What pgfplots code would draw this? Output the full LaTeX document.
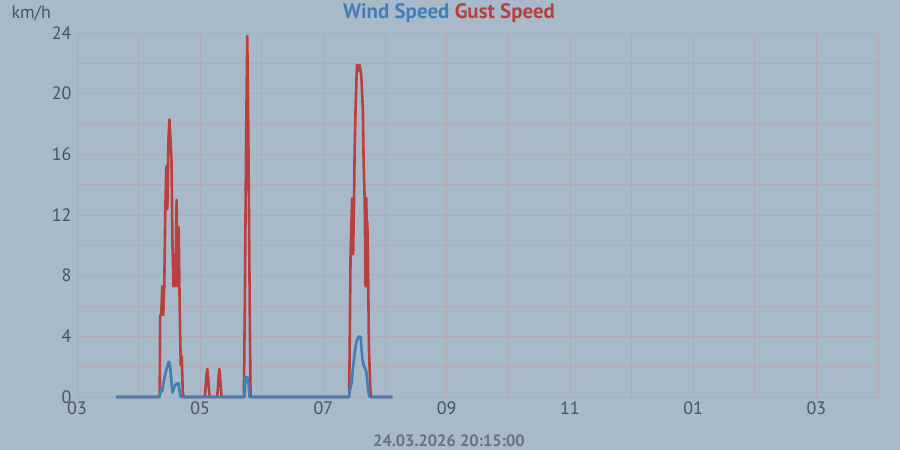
\documentclass[border=0pt]{standalone}
\usepackage{pgfplots}
\pgfplotsset{compat=1.18}
\usepackage{fontspec}
\setmainfont{PT Sans}
\definecolor{bgc}{RGB}{168,185,201}
\definecolor{gridc}{RGB}{178,171,178}
\definecolor{tickc}{RGB}{72,82,98}
\definecolor{datec}{RGB}{104,114,130}
\definecolor{windc}{RGB}{64,128,186}
\definecolor{gustc}{RGB}{186,64,64}
\begin{document}
\begin{tikzpicture}[x=1bp,y=1bp]
\fill[bgc] (-77,-53) rectangle (823,397);
\useasboundingbox (-77,-53) rectangle (823,397);
\begin{axis}[
  at={(0,0)}, anchor=south west,
  scale only axis, width=801bp, height=364bp,
  xmin=0, xmax=780, ymin=0, ymax=24,
  axis background/.style={fill=bgc},
  axis line style={gridc, line width=0.8pt},
  xtick={0,120,...,720}, xticklabels={03,05,07,09,11,01,03},
  minor xtick={60,180,...,780},
  ytick={0,4,...,24},
  minor ytick={2,6,...,22},
  grid=both,
  major grid style={gridc, line width=0.8pt},
  minor grid style={gridc, line width=0.8pt},
  major tick length=0pt, minor tick length=0pt,
  tick label style={font=\fontsize{18}{20}\selectfont, text=tickc},
  /pgf/number format/assume math mode=true,
  xticklabel style={yshift=-1bp},
  yticklabel style={xshift=-2bp},
  clip=false,
]
\addplot[gustc, line width=2.6bp, line join=round] coordinates {
(38,0) (80.5,0) (81,5.4) (82,5.4) (83,7.3) (84,5.4) (85,7.3) (86,12.4) (87,15.2) (88,12.4)
(89,16.9) (90,18.3) (91,17.0) (92,15.6) (93,10.0) (94,7.3) (95,9.4) (96,7.3) (97,13.0)
(98,7.3) (99,11.2) (100,5.95) (101,2.1) (102,2.7) (103,0.3) (104,0)
(124.5,0) (125,0.4) (126,1.4) (126.9,1.85) (127.6,1.4) (128.6,0.4) (129,0)
(136.5,0) (137,0.4) (138,1.4) (138.6,1.85) (139.3,1.4) (140.3,0.4) (140.8,0)
(162.5,0) (163.4,5.95) (164.8,17.8) (165.8,23.8) (166.8,17.8) (168.2,5.95) (169,0)
(265,0) (265.5,3.0) (266.4,9.4) (267.9,13.1) (268.9,9.4) (269.8,13.1) (270.3,16.0)
(271.3,19.1) (272.6,21.9) (273.7,21.5) (275.2,21.9) (276.8,21.2) (277.4,20.4) (278.4,18.9)
(279.1,15.5) (280.1,13.1) (281.0,7.3) (281.8,13.1) (282.3,7.3) (282.7,11.6) (283.3,9.4)
(284.3,3.2) (285.6,0.6) (286.4,0) (307,0)
};
\addplot[windc, line width=2.6bp, line join=round] coordinates {
(38,0) (80,0) (81,0.2) (82,0.5) (83,0.4) (84,0.8) (85,1.2) (86,1.5) (87,1.8) (88,2.0)
(89,2.3) (90,2.3) (91,1.8) (92,1.0) (93,0.3) (94,0.5) (95,0.7) (96,0.8) (97,0.9) (98,0.8)
(99,0.9) (100,0.3) (101,0)
(163.3,0) (164,1.3) (166,1.3) (167,0.9) (168,0)
(265,0) (265.5,0.35) (267.4,0.9) (268.7,1.9) (270.3,2.8) (272,3.65) (274.2,3.98)
(276.2,3.98) (276.8,3.4) (277.8,2.6) (279.1,2.1) (281.7,1.7) (283.3,0.6) (284.3,0.1)
(285,0) (307,0)
};
\end{axis}
\node[anchor=west, text=tickc, font=\fontsize{18}{20}\selectfont] at (-69,384) {km/h};
\node[font=\fontsize{21}{23}\selectfont\bfseries] at (372,384) {\textcolor{windc}{Wind Speed} \textcolor{gustc}{Gust Speed}};
\node[text=datec, font=\fontsize{16.5}{18}\selectfont\bfseries] at (372,-44) {24.03.2026 20:15:00};
\end{tikzpicture}
\end{document}
